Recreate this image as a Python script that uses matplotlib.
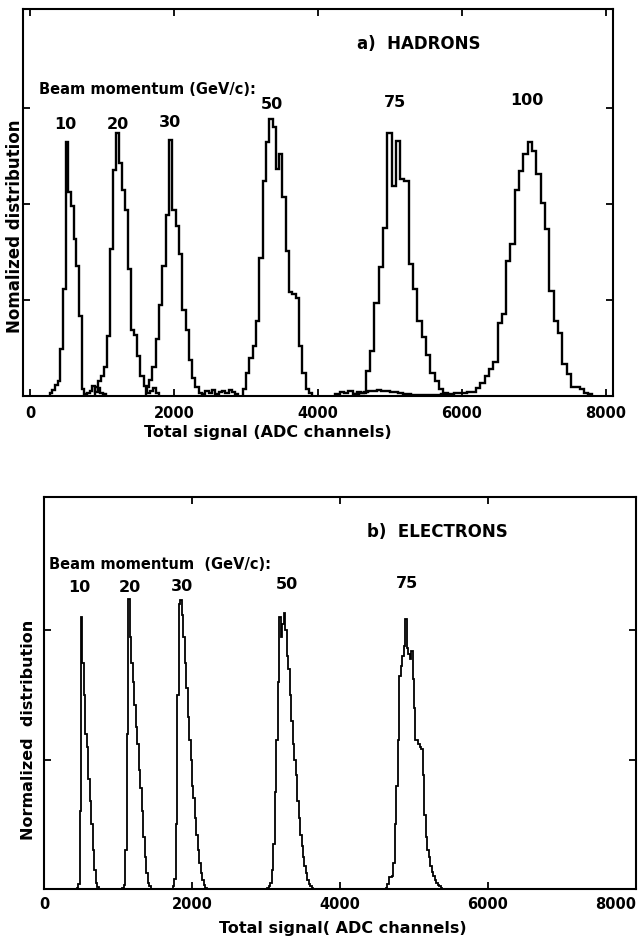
import matplotlib
matplotlib.use("Agg")
import matplotlib.pyplot as plt
import numpy as np

# ---------------------------------------------------------------------------
# a) HADRONS  -- step histograms, one per beam momentum (GeV/c)
#    each: first bin edge (ADC ch), bin width (ADC ch), bin heights
# ---------------------------------------------------------------------------
had_labels = ["10", "20", "30", "50", "75", "100"]
had_start = [270, 903, 1607, 2954, 4242, 4515]
had_width = [37, 42, 46, 46, 60, 60]

had_10 = [0.03, 0.06, 0.11, 0.16, 0.49, 1.11, 2.64, 2.12, 1.98, 1.63, 1.35,
          0.83, 0.07, 0.02, 0.03, 0.05, 0.10, 0.04, 0.08, 0.03, 0.02]
had_20 = [0.09, 0.16, 0.21, 0.30, 0.63, 1.53, 2.35, 2.74, 2.43, 2.15, 1.94,
          1.32, 0.69, 0.64, 0.42, 0.21, 0.10, 0.03, 0.05, 0.08, 0.03]
had_30 = [0.09, 0.17, 0.30, 0.59, 0.95, 1.35, 1.88, 2.67, 1.94, 1.77, 1.48,
          0.90, 0.69, 0.38, 0.19, 0.09, 0.035, 0.02, 0.05, 0.03, 0.06, 0.02,
          0.04, 0.05, 0.03, 0.06, 0.04, 0.02]
had_50 = [0.07, 0.24, 0.40, 0.52, 0.78, 1.44, 2.24, 2.64, 2.88, 2.80, 2.36,
          2.52, 2.07, 1.51, 1.08, 1.06, 1.02, 0.52, 0.24, 0.07, 0.035]
had_75 = [0.02, 0.04, 0.03, 0.05, 0.02, 0.04,
          0.035, 0.26, 0.47, 0.97, 1.34, 1.75, 2.74, 2.19, 2.66, 2.26, 2.24,
          1.37, 1.11, 0.78, 0.61, 0.43, 0.24, 0.16, 0.07, 0.035]
had_100 = [0.02, 0.03, 0.04, 0.05, 0.05, 0.06, 0.05, 0.05, 0.04, 0.04, 0.03,
           0.02, 0.02, 0.01, 0.01, 0.01, 0.01, 0.01, 0.01, 0.01, 0.02, 0.02,
           0.02, 0.03, 0.03, 0.03, 0.04,
           0.045, 0.087, 0.14, 0.21, 0.28, 0.35, 0.76, 0.85, 1.41, 1.58, 2.14,
           2.34, 2.52, 2.64, 2.55, 2.31, 2.01, 1.74, 1.09, 0.78, 0.66, 0.33,
           0.23, 0.09, 0.09, 0.07, 0.035, 0.02]
had_label_x = [483, 1219, 1942, 3358, 5067, 6900]
had_label_y = [2.83, 2.83, 2.85, 3.04, 3.06, 3.08]

# ---------------------------------------------------------------------------
# b) ELECTRONS
# ---------------------------------------------------------------------------
el_labels = ["10", "20", "30", "50", "75"]
el_start = [440, 1060, 1740, 3020, 4620]
el_width = [20, 20, 20, 20, 20]

el_10 = [0.01, 0.04, 0.60, 2.10, 1.75, 1.50, 1.20, 1.10, 0.85, 0.68, 0.50,
         0.30, 0.15, 0.05, 0.015]
el_20 = [0.01, 0.03, 0.30, 1.20, 2.24, 1.95, 1.75, 1.60, 1.42, 1.25, 1.12,
         0.92, 0.78, 0.60, 0.40, 0.25, 0.12, 0.05, 0.02]
el_30 = [0.02, 0.08, 0.50, 1.50, 2.20, 2.23, 2.12, 1.95, 1.75, 1.55, 1.33,
         1.15, 1.00, 0.80, 0.70, 0.55, 0.42, 0.30, 0.20, 0.12, 0.07, 0.03,
         0.01]
el_50 = [0.01, 0.02, 0.05, 0.15, 0.35, 0.75, 1.15, 1.60, 2.10, 1.95, 2.05,
         2.13, 2.00, 1.80, 1.70, 1.50, 1.30, 1.12, 1.00, 0.88, 0.68, 0.55,
         0.42, 0.33, 0.25, 0.18, 0.12, 0.07, 0.04, 0.02, 0.01]
el_75 = [0.01, 0.04, 0.09, 0.09, 0.10, 0.20, 0.50, 0.80, 1.15, 1.65, 1.72,
         1.80, 1.88, 2.09, 1.86, 1.82, 1.78, 1.84, 1.62, 1.40, 1.15, 1.15,
         1.12, 1.10, 1.08, 0.88, 0.57, 0.40, 0.30, 0.25, 0.18, 0.13, 0.10,
         0.07, 0.05, 0.03, 0.02, 0.01]
el_label_x = [474, 1163, 1866, 3286, 4908]
el_label_y = [2.33, 2.33, 2.34, 2.35, 2.36]

x_ticks = [0, 2000, 4000, 6000, 8000]

plt.rcParams["font.family"] = ["DejaVu Sans"]
plt.rcParams["font.weight"] = "bold"


def draw_hists(ax, starts, widths, series, lw):
    for start, width, vals in zip(starts, widths, series):
        edges = start + width * np.arange(len(vals) + 1)
        ax.stairs(vals, edges, baseline=0, color="black", linewidth=lw)


def style_axes(ax, xlim, ylim, yticks, pad):
    ax.set_xlim(*xlim)
    ax.set_ylim(*ylim)
    ax.set_xticks(x_ticks)
    ax.set_xticklabels([str(t) for t in x_ticks], fontsize=10.5,
                       fontweight="bold")
    ax.set_yticks(yticks)
    ax.set_yticklabels([])
    ax.tick_params(direction="in", top=True, right=True, length=5,
                   width=1.3, pad=pad)
    for sp in ax.spines.values():
        sp.set_linewidth(1.5)


fig = plt.figure(figsize=(6.41, 9.41), dpi=100)
W, H = 641.0, 941.0

# --- panel a ---
ax1 = fig.add_axes([23 / W, 1 - 396 / H, 590 / W, 387 / H])
draw_hists(ax1, had_start, had_width,
           [had_10, had_20, had_30, had_50, had_75, had_100], lw=1.7)
style_axes(ax1, (-100, 8100), (0, 4.03), [1, 2, 3], pad=7)
for lab, x, y in zip(had_labels, had_label_x, had_label_y):
    ax1.text(x, y, lab, ha="center", va="center", fontsize=11.5)
ax1.text(122, 3.19, "Beam momentum (GeV/c):", ha="left", va="center",
         fontsize=10.5)
ax1.text(4539, 3.67, "a)  HADRONS", ha="left", va="center", fontsize=12)
fig.text(15 / W, 1 - 226 / H, "Nomalized distribution", rotation=90,
         ha="center", va="center", fontsize=12)
fig.text(268 / W, 1 - 432 / H, "Total signal (ADC channels)",
         ha="center", va="center", fontsize=11.5)

# --- panel b ---
ax2 = fig.add_axes([44 / W, 1 - 889 / H, 592 / W, 392 / H])
draw_hists(ax2, el_start, el_width,
           [el_10, el_20, el_30, el_50, el_75], lw=1.3)
style_axes(ax2, (0, 8000), (0, 3.03), [1, 2], pad=6)
ax2.get_xticklabels()[-1].set_horizontalalignment("right")
for lab, x, y in zip(el_labels, el_label_x, el_label_y):
    ax2.text(x, y, lab, ha="center", va="center", fontsize=11.5)
ax2.text(68, 2.51, "Beam momentum  (GeV/c):", ha="left", va="center",
         fontsize=10.5)
ax2.text(4367, 2.76, "b)  ELECTRONS", ha="left", va="center", fontsize=12)
fig.text(29 / W, 1 - 730 / H, "Normalized  distribution", rotation=90,
         ha="center", va="center", fontsize=11.5)
fig.text(343 / W, 1 - 928 / H, "Total signal( ADC channels)",
         ha="center", va="center", fontsize=11.5)

fig.savefig("out.png", dpi=100, facecolor="white")
